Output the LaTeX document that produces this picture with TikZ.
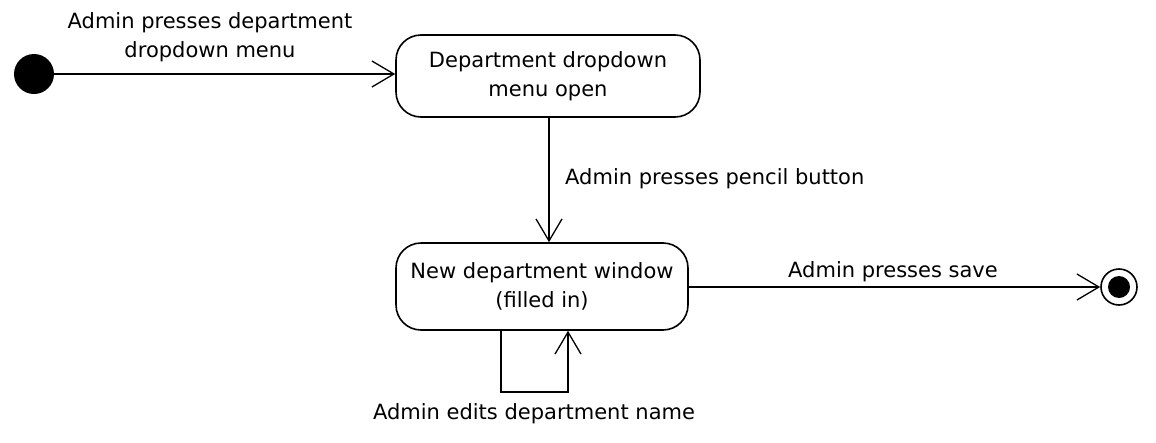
\documentclass[tikz,border=0pt]{standalone}
\usepackage{fontspec}
\setmainfont{DejaVu Sans}
\usetikzlibrary{arrows.meta,calc}
\begin{document}
\begin{tikzpicture}[x=1pt,y=-1pt,
  state/.style={draw,line width=1.6pt,rounded corners=25pt,align=center,font=\fontsize{21}{28.5}\selectfont,inner sep=0pt},
  lbl/.style={font=\fontsize{21}{28.5}\selectfont,align=center,inner sep=0pt},
  tr/.style={line width=1.3pt,-{Straight Barb[length=22pt,width=26pt,line width=1.3pt]}}]
\useasboundingbox (0,0) rectangle (1156,442);
\node[circle,fill=black,minimum size=40pt,inner sep=0pt] (start) at (34,74) {};
\node[state,minimum width=304pt,minimum height=82pt] (s1) at (548,76) {Department dropdown\\menu open};
\node[state,minimum width=292pt,minimum height=87pt] (s2) at (542,286.5) {New department window\\(filled in)};
\node[circle,draw,line width=1.6pt,minimum size=36pt,inner sep=0pt] (end) at (1119,287) {};
\node[circle,fill=black,minimum size=22pt,inner sep=0pt] at (end) {};
\coordinate (l1) at (501,392);
\coordinate (l2) at (568,392);
\draw[tr] (start) -- (s1.west |- start);
\draw[tr] (s1.south -| 549,0) -- (s2.north -| 549,0);
\draw[tr] (s2.east |- end) -- (end);
\draw[tr] (s2.south -| l1) -- (l1) -- (l2) -- (s2.south -| l2);
\node[lbl] at (210,37) {Admin presses department\\dropdown menu};
\node[lbl,anchor=west] at (565,179) {Admin presses pencil button};
\node[lbl] at (893,272) {Admin presses save};
\node[lbl] at (534,414) {Admin edits department name};
\end{tikzpicture}
\end{document}
